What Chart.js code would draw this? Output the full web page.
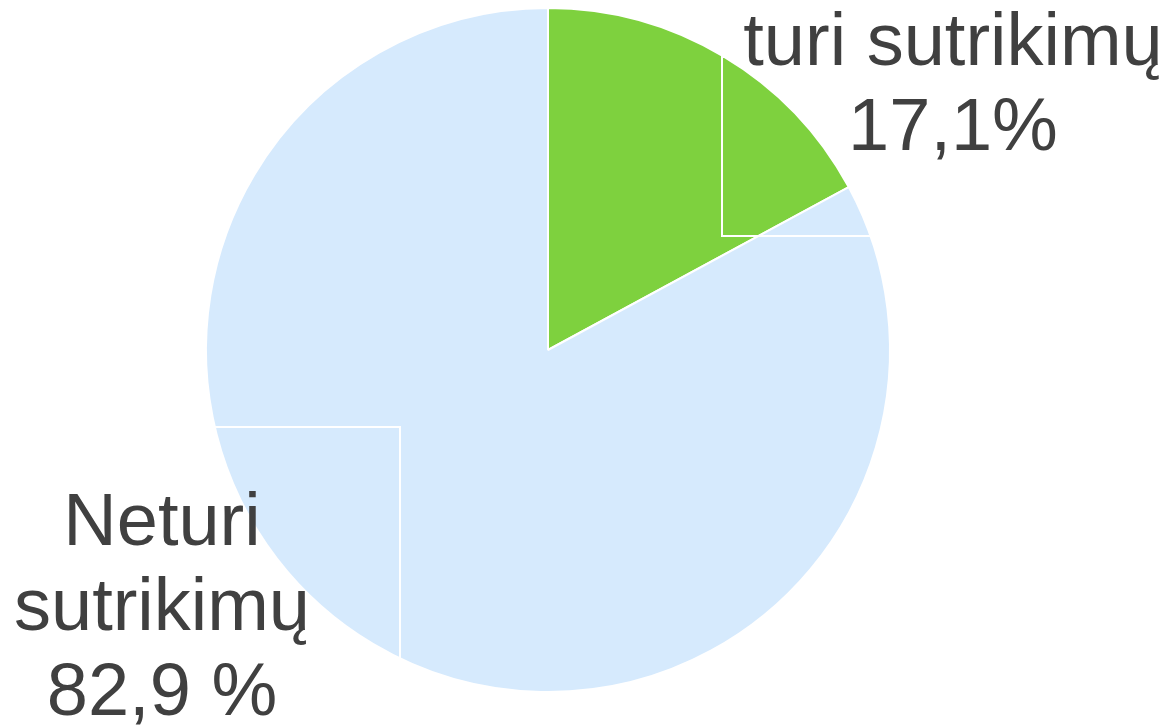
<!DOCTYPE html>
<html lang="lt">
<head>
<meta charset="UTF-8">
<title>Sutrikimai</title>
<script src="https://cdn.jsdelivr.net/npm/chart.js"></script>
<style>
  body { margin: 0; background: #fff; }
  canvas { display: block; }
</style>
</head>
<body>
<canvas id="pieChart" width="1172" height="726"></canvas>
<script>
// data
var categories = ['turi sutrikimų', 'Neturi sutrikimų'];
var shares = [17.1, 82.9];
var labelLines = [
    ['turi sutrikimų', '17,1%'],
    ['Neturi', 'sutrikimų', '82,9 %']
];
var sliceColors = ['#7ed13e', '#d6eafd'];

// where the label boxes sit (center x, first baseline, box frame)
var labelSpots = [
    { x: 953, y: 65, box: [722, 57, 500, 179] },
    { x: 162, y: 545, box: [-10, 427, 410, 233] }
];

var labelPlugin = {
    id: 'labelPlugin',
    afterDatasetsDraw: function(chart) {
        var ctx = chart.ctx;
        ctx.save();
        // white frames of the label boxes
        ctx.strokeStyle = '#ffffff';
        ctx.lineWidth = 2;
        labelSpots.forEach(function(spot) {
            var b = spot.box;
            ctx.strokeRect(b[0], b[1], b[2], b[3]);
        });
        ctx.fillStyle = '#404040';
        ctx.font = '74px "Liberation Sans", Arial, sans-serif';
        ctx.textAlign = 'center';
        ctx.textBaseline = 'alphabetic';
        labelLines.forEach(function(lines, i) {
            var spot = labelSpots[i];
            lines.forEach(function(line, j) {
                ctx.fillText(line, spot.x, spot.y + j * 85);
            });
        });
        ctx.restore();
    }
};

new Chart(document.getElementById('pieChart').getContext('2d'), {
    type: 'pie',
    data: {
        labels: categories,
        datasets: [{
            data: shares,
            backgroundColor: sliceColors,
            borderColor: '#ffffff',
            borderWidth: 2
        }]
    },
    options: {
        responsive: false,
        animation: false,
        layout: {
            padding: { left: 205, right: 281, top: 7, bottom: 33 }
        },
        plugins: {
            legend: { display: false },
            tooltip: { enabled: false }
        }
    },
    plugins: [labelPlugin]
});
</script>
</body>
</html>
